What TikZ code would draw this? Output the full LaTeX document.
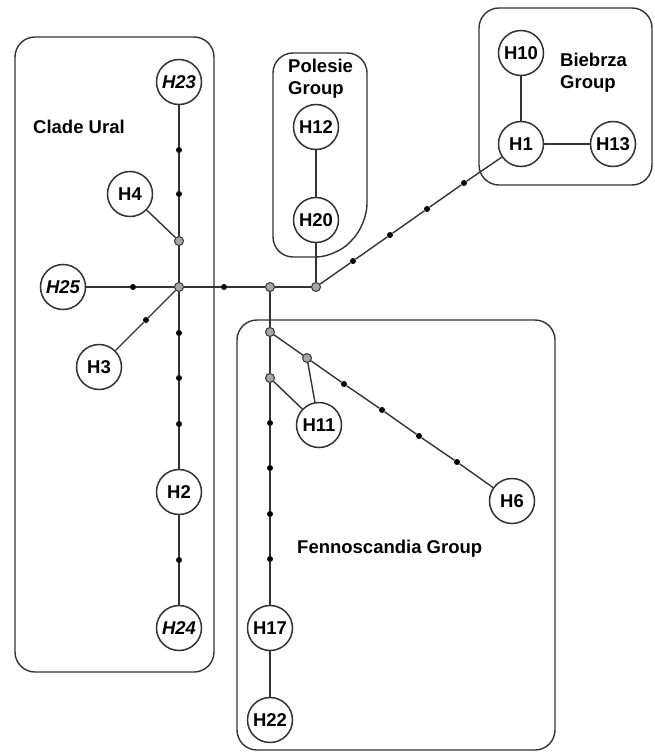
\documentclass[tikz,border=0pt]{standalone}
\usepackage{fontspec}
\setmainfont{Liberation Sans}
\usetikzlibrary{positioning,calc}
\definecolor{netline}{HTML}{333333}
\definecolor{medfill}{HTML}{A6A6A6}
\tikzset{
  hap/.style={circle, draw=netline, fill=white, line width=1.5pt, minimum size=45pt, inner sep=0pt,
              font=\fontsize{18.5}{20}\selectfont\bfseries},
  rare/.style={font=\fontsize{18.5}{20}\selectfont\bfseries\itshape},
  med/.style={circle, draw=netline, fill=medfill, line width=1pt, minimum size=9pt, inner sep=0pt},
  mut/.style={circle, fill=black, minimum size=6pt, inner sep=0pt},
  group/.style={draw=netline, line width=1.4pt, rounded corners=20pt},
  grouplabel/.style={font=\fontsize{18.5}{22}\selectfont\bfseries, align=left, inner sep=0pt, anchor=west},
  link/.style={draw=netline, line width=1.4pt},
}

\begin{document}
\begin{tikzpicture}[x=1pt, y=-1pt]
  \useasboundingbox (0,0) rectangle (654,752);
  % Group frames
  \draw[group] (15,37) rectangle (214,672);
  \draw[group] (273,53) -- (367,53) -- (367,224) -- (336,257) -- (273,257) -- cycle;
  \draw[group] (479,8) rectangle (652,185);
  \draw[group] (237,320) rectangle (555,750);
  \node[grouplabel] (lblural) at (33,127) {Clade Ural};
  \node[grouplabel] (lblpol) at (288,79) {Polesie\\Group};
  \node[grouplabel] (lblbie) at (560,73) {Biebrza\\Group};
  \node[grouplabel] (lblfen) at (297,549) {Fennoscandia Group};
  % Haplotypes
  \node[hap, rare] (H23) at (179,82) {H23};
  \node[hap] (H4) at (130,194) {H4};
  \node[hap, rare] (H25) at (63,287) {H25};
  \node[hap] (H3) at (99,367) {H3};
  \node[hap] (H2) at (179,492) {H2};
  \node[hap, rare] (H24) at (179,628) {H24};
  \node[hap] (H12) at (316,127) {H12};
  \node[hap] (H20) at (316,220) {H20};
  \node[hap] (H10) at (521,53) {H10};
  \node[hap] (H1) at (521,144) {H1};
  \node[hap] (H13) at (613,144) {H13};
  \node[hap] (H11) at (319,425) {H11};
  \node[hap] (H6) at (512,501) {H6};
  \node[hap] (H17) at (270,628) {H17};
  \node[hap] (H22) at (270,720) {H22};
  % Median vectors
  \foreach \n/\x/\y in {m1/179/241, m2/179/287, m3/270/287, m4/316/287, m5/270/332, m6/307/358, m7/270/378}
    \node[med] (\n) at (\x,\y) {};
  % Mutation steps
  \foreach \n/\x/\y in {a1/179/150, a2/179/194, b1/133/287, c1/224/287, d1/146/320,
                        e1/179/333, e2/179/378, e3/179/424, f1/179/560,
                        g1/353/261, g2/390/235, g3/427/209, g4/464/183,
                        h1/344/384, h2/382/410, h3/419/436, h4/457/462,
                        k1/270/423, k2/270/468, k3/270/514, k4/270/559}
    \node[mut] (\n) at (\x,\y) {};
  % Links
  \draw[link] (H23) -- (a1) -- (a2) -- (m1) -- (m2);
  \draw[link] (H4) -- (m1);
  \draw[link] (H25) -- (b1) -- (m2);
  \draw[link] (m2) -- (d1) -- (H3);
  \draw[link] (m2) -- (e1) -- (e2) -- (e3) -- (H2) -- (f1) -- (H24);
  \draw[link] (m2) -- (c1) -- (m3) -- (m4);
  \draw[link] (m4) -- (H20) -- (H12);
  \draw[link] (m4) -- (g1) -- (g2) -- (g3) -- (g4) -- (H1);
  \draw[link] (H10) -- (H1) -- (H13);
  \draw[link] (m3) -- (m5) -- (m7) -- (k1) -- (k2) -- (k3) -- (k4) -- (H17) -- (H22);
  \draw[link] (m5) -- (m6) -- (h1) -- (h2) -- (h3) -- (h4) -- (H6);
  \draw[link] (m6) -- (H11);
  \draw[link] (m7) -- (H11);
\end{tikzpicture}
\end{document}
